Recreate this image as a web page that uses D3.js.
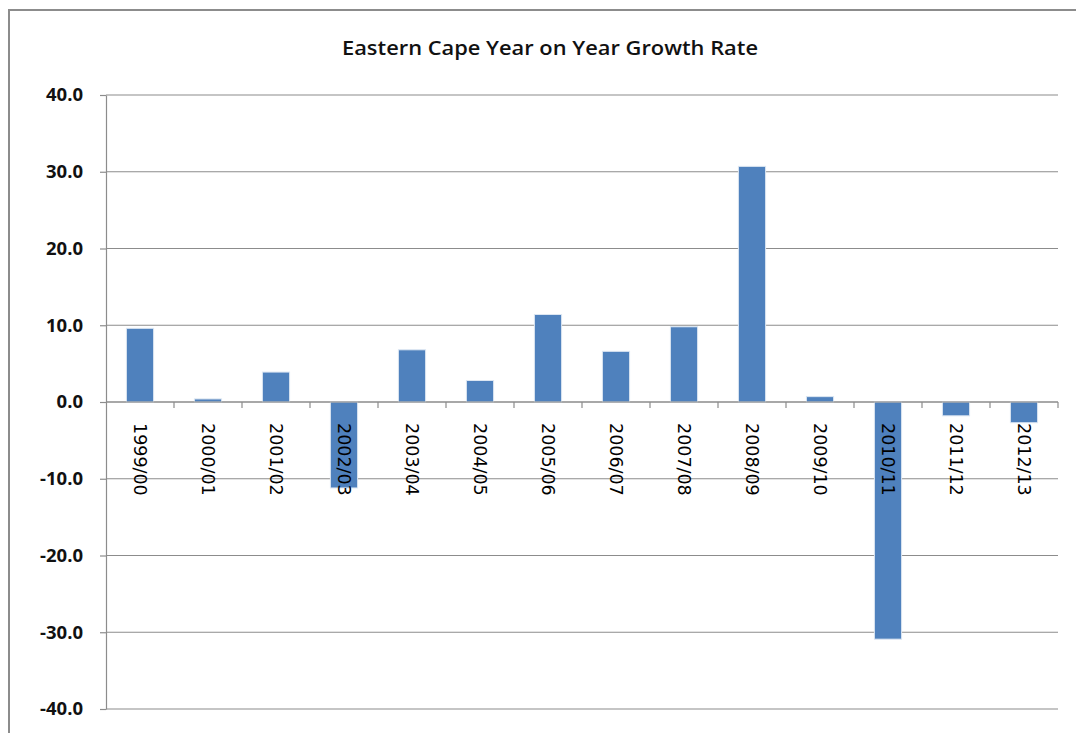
<!DOCTYPE html>
<html><head><meta charset="utf-8">
<script src="https://cdn.jsdelivr.net/npm/d3@7"></script>
<style>body{margin:0;background:#fff;}svg{display:block;}</style>
</head><body>
<script>
const categories = ["1999/00","2000/01","2001/02","2002/03","2003/04","2004/05","2005/06","2006/07","2007/08","2008/09","2009/10","2010/11","2011/12","2012/13"];
const growthRate = [9.6,0.4,3.9,-11.2,6.8,2.8,11.4,6.6,9.8,30.7,0.7,-30.9,-1.8,-2.7];
const yTicks = [40,30,20,10,0,-10,-20,-30,-40];
const title = "Eastern Cape Year on Year Growth Rate";

(function(){
const W = 1076, H = 733;
const svg = d3.select("body").append("svg").attr("width", W).attr("height", H);
svg.append("rect").attr("width", W).attr("height", H).attr("fill", "#fff");
// chart frame
svg.append("rect").attr("x", 9).attr("y", 10).attr("width", W + 20).attr("height", H + 20)
  .attr("fill", "#fff").attr("stroke", "#8c8c8c").attr("stroke-width", 2);

const pl = 106, pr = 1058, pt = 95, pb = 709;
const x = d3.scaleBand().domain(categories).range([pl, pr]).paddingInner(0.6).paddingOuter(0.3);
const xb = d3.scaleBand().domain(categories).range([pl, pr]);
const y = d3.scaleLinear().domain([-40, 40]).range([pb, pt]);

// gridlines
svg.append("g").selectAll("line").data(yTicks).join("line")
  .attr("x1", pl).attr("x2", pr).attr("y1", d => y(d)).attr("y2", d => y(d))
  .attr("stroke", "#8c8c8c").attr("stroke-width", 1.2);

// y axis
const yAxis = svg.append("g").attr("transform", `translate(${pl},0)`)
  .call(d3.axisLeft(y).tickValues(yTicks).tickSize(6).tickSizeOuter(0).tickFormat(d3.format(".1f")));
yAxis.select(".domain").attr("stroke", "#8c8c8c").attr("stroke-width", 1.2);
yAxis.selectAll(".tick line").attr("stroke", "#8c8c8c").attr("stroke-width", 1.2);
yAxis.selectAll(".tick text").attr("font-family", "Open Sans, sans-serif").attr("font-size", 18.5)
  .attr("font-weight", 700).attr("fill", "#111").attr("x", -23).text(d => d3.format(".1f")(d).replace("−","-"));

// bars
svg.append("g").selectAll("rect").data(categories).join("rect")
  .attr("x", (d) => x(d))
  .attr("width", x.bandwidth())
  .attr("y", (d, i) => y(Math.max(0, growthRate[i])))
  .attr("height", (d, i) => Math.abs(y(growthRate[i]) - y(0)))
  .attr("fill", "#4f81bd").attr("stroke", "#dce6f2").attr("stroke-width", 1);

// x axis at zero
const xAxisG = svg.append("g").attr("transform", `translate(0,${y(0)})`);
xAxisG.append("line").attr("x1", pl).attr("x2", pr).attr("stroke", "#8c8c8c").attr("stroke-width", 1.2);
const bounds = categories.map(c => xb(c) + xb.bandwidth());
xAxisG.selectAll("line.tk").data(bounds).join("line").attr("class", "tk")
  .attr("x1", d => d).attr("x2", d => d).attr("y1", 0).attr("y2", 6)
  .attr("stroke", "#8c8c8c").attr("stroke-width", 1.2);
xAxisG.selectAll("text").data(categories).join("text")
  .attr("transform", d => `translate(${xb(d) + xb.bandwidth() / 2},21) rotate(90)`)
  .attr("dy", "0.35em")
  .attr("font-family", "DejaVu Sans, sans-serif").attr("font-size", 17.5).attr("fill", "#000")
  .text(d => d);

// title
svg.append("text").attr("x", 550).attr("y", 55).attr("text-anchor", "middle")
  .attr("font-family", "Open Sans, sans-serif").attr("font-size", 19).attr("font-weight", 600).attr("fill", "#111")
  .attr("textLength", 416).attr("lengthAdjust", "spacingAndGlyphs")
  .text(title);
})();
</script>
</body></html>
